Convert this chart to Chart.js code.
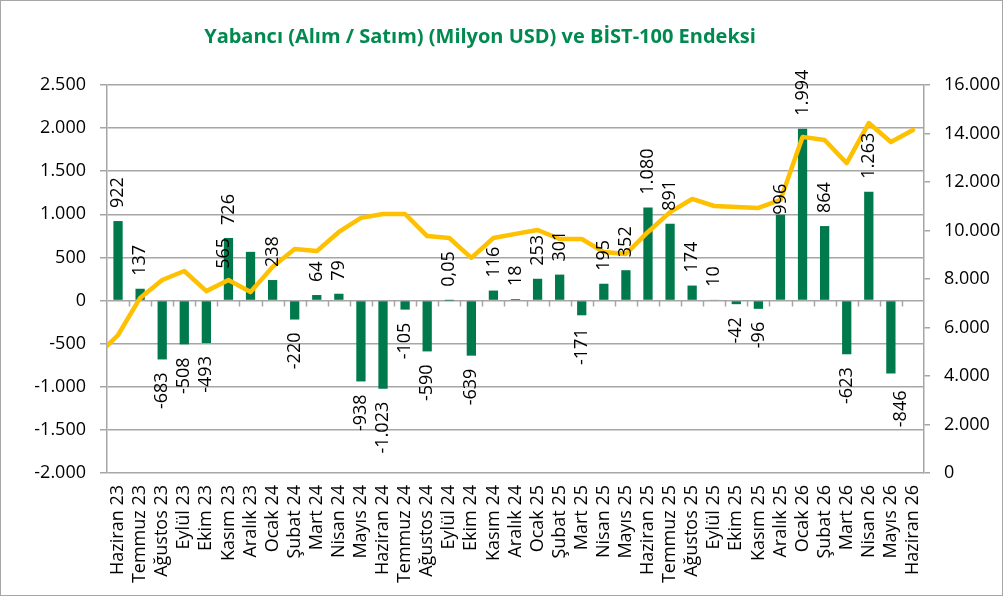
<!DOCTYPE html>
<html>
<head>
<meta charset="utf-8">
<script src="https://cdn.jsdelivr.net/npm/chart.js@4/dist/chart.umd.min.js"></script>
<style>
  html, body { margin: 0; padding: 0; background: #fff; }
  #wrap { width: 1004px; height: 599px; }
</style>
</head>
<body>
<div id="wrap"><canvas id="chart" width="1004" height="599"></canvas></div>
<script>
// first category (Mayıs 23) sits just left of the plot and is clipped
const categories = ['Mayıs 23',
  'Haziran 23', 'Temmuz 23', 'Ağustos 23', 'Eylül 23', 'Ekim 23', 'Kasım 23', 'Aralık 23',
  'Ocak 24', 'Şubat 24', 'Mart 24', 'Nisan 24', 'Mayıs 24', 'Haziran 24', 'Temmuz 24',
  'Ağustos 24', 'Eylül 24', 'Ekim 24', 'Kasım 24', 'Aralık 24',
  'Ocak 25', 'Şubat 25', 'Mart 25', 'Nisan 25', 'Mayıs 25', 'Haziran 25', 'Temmuz 25',
  'Ağustos 25', 'Eylül 25', 'Ekim 25', 'Kasım 25', 'Aralık 25',
  'Ocak 26', 'Şubat 26', 'Mart 26', 'Nisan 26', 'Mayıs 26', 'Haziran 26']

const foreignFlow = [null,
  922, 137, -683, -508, -493, 726, 565,
  238, -220, 64, 79, -938, -1023, -105, -590, 0.05, -639, 116, 18,
  253, 301, -171, 195, 352, 1080, 891, 174, 10, -42, -96, 996,
  1994, 864, -623, 1263, -846, null]

const bist100 = [4800,
  5690, 7220, 7960, 8330, 7500, 7960, 7460,
  8500, 9240, 9150, 9940, 10520, 10680, 10680, 9770, 9690, 8870, 9690, 9860,
  10020, 9650, 9650, 9110, 9030, 9940, 10760, 11300, 11010, 10970, 10930, 11260,
  13860, 13730, 12780, 14430, 13650, 14140]

const flowTicks  = [-2000, -1500, -1000, -500, 0, 500, 1000, 1500, 2000, 2500]
const indexTicks = [0, 2000, 4000, 6000, 8000, 10000, 12000, 14000, 16000]

const titleText = 'Yabancı (Alım / Satım) (Milyon USD) ve BİST-100 Endeksi'

// a couple of labels were moved by hand in the original
const labelNudge = { 'Aralık 23': [-27, 30], 'Aralık 25': [0, 13], 'Mayıs 26': [10, 4] }

const GREEN = '#00794C'
const GOLD  = '#FFC000'
const GRID  = '#A6A6A6'
const FONT  = "'Open Sans', sans-serif"

function fmt(v) {
  if (!Number.isInteger(v)) return String(v).replace('.', ',')
  const s = Math.abs(v).toString().replace(/\B(?=(\d{3})+(?!\d))/g, '.')
  return (v < 0 ? '-' : '') + s
}

const extras = {
  id: 'extras',
  beforeDatasetsDraw(chart) {
    // small tick marks hanging off the zero line
    const ctx = chart.ctx
    const x = chart.scales.x, y = chart.scales.y
    const y0 = y.getPixelForValue(0)
    const w = x.getPixelForValue(2) - x.getPixelForValue(1)
    ctx.save()
    ctx.strokeStyle = GRID
    ctx.lineWidth = 1.5
    ctx.beginPath()
    for (let k = x.min; k < x.max; k++) {
      const px = Math.round(x.getPixelForValue(k) + w / 2) + 0.5
      ctx.moveTo(px, y0)
      ctx.lineTo(px, y0 + 6)
    }
    ctx.stroke()
    ctx.restore()
  },
  afterDatasetsDraw(chart) {
    const ctx = chart.ctx
    const meta = chart.getDatasetMeta(1)
    const xs = chart.scales.x
    ctx.save()
    ctx.font = '18px ' + FONT
    ctx.fillStyle = '#000'
    ctx.textBaseline = 'middle'
    meta.data.forEach((bar, i) => {
      const v = foreignFlow[i]
      if (v === null || i < xs.min || i > xs.max) return
      const nudge = labelNudge[categories[i]] || [0, 0]
      const gap = 13
      const py = v >= 0 ? Math.min(bar.y, bar.base) - gap : Math.max(bar.y, bar.base) + gap
      ctx.save()
      ctx.translate(bar.x + nudge[0], py + nudge[1])
      ctx.rotate(-Math.PI / 2)
      ctx.textAlign = v >= 0 ? 'left' : 'right'
      ctx.fillText(fmt(v), 0, 0)
      ctx.restore()
    })
    ctx.restore()
  },
  afterDraw(chart) {
    const ctx = chart.ctx
    ctx.save()
    ctx.fillStyle = '#008A50'
    ctx.font = 'bold 20px ' + FONT
    ctx.textAlign = 'center'
    ctx.textBaseline = 'middle'
    ctx.fillText(titleText, 480, 37)
    ctx.strokeStyle = '#A6A6A6'
    ctx.lineWidth = 1
    ctx.strokeRect(0.5, 0.5, 1002, 595)
    ctx.restore()
  }
}

new Chart(document.getElementById('chart'), {
  data: {
    labels: categories,
    datasets: [{
      type: 'line',
      label: 'BİST-100',
      data: bist100,
      yAxisID: 'y2',
      borderColor: GOLD,
      borderWidth: 4.5,
      pointRadius: 0,
      tension: 0,
      borderJoinStyle: 'round',
      borderCapStyle: 'round',
      clip: 0,
      order: 0
    }, {
      type: 'bar',
      label: 'Yabancı (Alım / Satım)',
      data: foreignFlow,
      yAxisID: 'y',
      backgroundColor: GREEN,
      categoryPercentage: 1,
      barPercentage: 0.42,
      order: 1
    }]
  },
  options: {
    responsive: false,
    animation: false,
    layout: { padding: { top: 85, left: 0, right: 0, bottom: 0 } },
    plugins: { legend: { display: false }, tooltip: { enabled: false }, title: { display: false } },
    scales: {
      x: {
        type: 'category',
        min: categories[1],
        offset: true,
        grid: { display: false, drawTicks: false },
        border: { display: false },
        ticks: {
          autoSkip: false, minRotation: 90, maxRotation: 90, padding: 12,
          color: '#000', font: { family: FONT, size: 18 }
        },
        afterFit(s) { s.height = 126 }
      },
      y: {
        position: 'left',
        min: flowTicks[0],
        max: flowTicks[flowTicks.length - 1],
        ticks: {
          stepSize: flowTicks[1] - flowTicks[0], padding: 14,
          color: '#000', font: { family: FONT, size: 18 },
          callback: v => fmt(v)
        },
        grid: { color: GRID, lineWidth: 1.5, tickLength: 7 },
        border: { display: true, color: GRID, width: 1.5 },
        afterFit(s) { s.width = 107 }
      },
      y2: {
        position: 'right',
        min: indexTicks[0],
        max: indexTicks[indexTicks.length - 1],
        ticks: {
          stepSize: indexTicks[1] - indexTicks[0], padding: 14,
          color: '#000', font: { family: FONT, size: 18 },
          callback: v => fmt(v)
        },
        grid: { drawOnChartArea: false, color: GRID, lineWidth: 1.5, tickLength: 6 },
        border: { display: true, color: GRID, width: 1.5 },
        afterFit(s) { s.width = 80 }
      }
    }
  },
  plugins: [extras]
})
</script>
</body>
</html>
